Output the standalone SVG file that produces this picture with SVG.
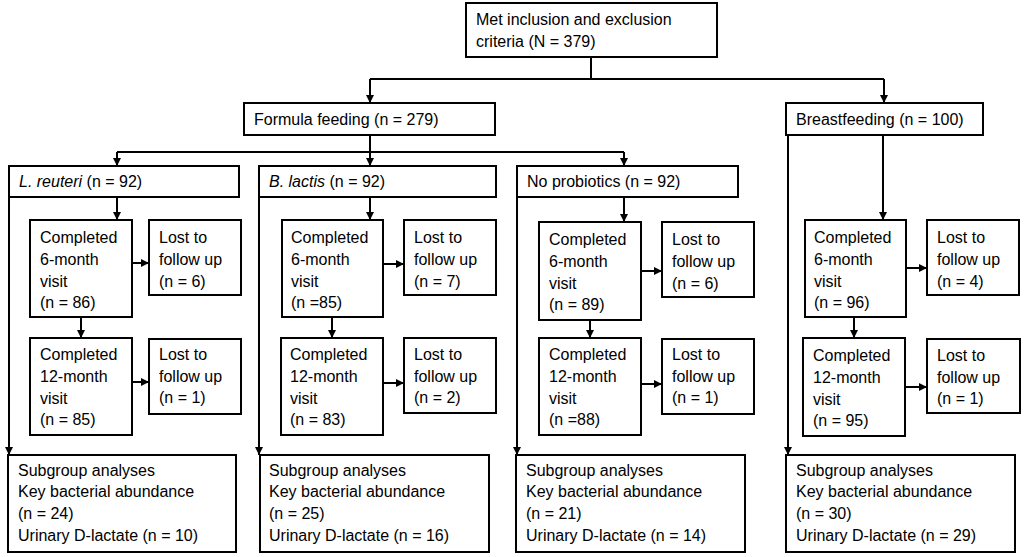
<svg xmlns="http://www.w3.org/2000/svg" width="1024" height="557" viewBox="0 0 1024 557">
<defs>
<marker id="ah" markerUnits="userSpaceOnUse" markerWidth="9" markerHeight="9" refX="8" refY="4" orient="auto">
<path d="M0,0 L8,4 L0,8 z" fill="#000"/>
</marker>
<style>
rect{fill:#fff;stroke:#000;stroke-width:2}
text{font-family:"Liberation Sans",Arial,sans-serif;font-size:16px;fill:#000}
.c path{fill:none;stroke:#000;stroke-width:2}
.a{marker-end:url(#ah)}
</style>
</defs>
<rect x="0" y="0" width="1024" height="557" style="stroke:none"/>
<g class="c" id="connectors">
<path d="M591,57 V79 M370,79 H884"/>
<path class="a" d="M370,79 V103"/>
<path class="a" d="M884,79 V103"/>
<path d="M370,135 V152 M117,152 H624"/>
<path class="a" d="M117,152 V166"/>
<path class="a" d="M370,152 V166"/>
<path class="a" d="M624,152 V166"/>
<path class="a" d="M117,197 V220"/>
<path class="a" d="M132,263 H149"/>
<path class="a" d="M81,317 V338"/>
<path class="a" d="M132,382 H149"/>
<path class="a" d="M9,197 V455"/>
<path class="a" d="M370,197 V220"/>
<path class="a" d="M383,264 H404"/>
<path class="a" d="M332,317 V338"/>
<path class="a" d="M383,383 H404"/>
<path class="a" d="M259,197 V455"/>
<path class="a" d="M624,197 V222"/>
<path class="a" d="M641,271 H662"/>
<path class="a" d="M590,320 V338"/>
<path class="a" d="M641,384 H662"/>
<path class="a" d="M517,197 V455"/>
<path class="a" d="M883,135 V220"/>
<path class="a" d="M906,268 H927"/>
<path class="a" d="M854,317 V338"/>
<path class="a" d="M905,387 H927"/>
<path class="a" d="M788,135 V455"/>
</g>
<g id="top"><rect x="466" y="3" width="251" height="54"/><text x="476" y="25">Met inclusion and exclusion</text><text x="476" y="47">criteria (N = 379)</text></g>
<g id="formula"><rect x="244" y="103" width="251" height="32"/><text x="254" y="125">Formula feeding (n = 279)</text></g>
<g id="breast"><rect x="786" y="103" width="197" height="32"/><text x="796" y="125">Breastfeeding (n = 100)</text></g>
<g id="reuteri"><rect x="9" y="166" width="230" height="31"/><text x="19" y="187"><tspan font-style="italic">L. reuteri</tspan> (n = 92)</text></g>
<g id="lactis"><rect x="259" y="166" width="237" height="31"/><text x="269" y="187"><tspan font-style="italic">B. lactis</tspan> (n = 92)</text></g>
<g id="noprob"><rect x="517" y="166" width="221" height="31"/><text x="527" y="187">No probiotics (n = 92)</text></g>

<g id="r6"><rect x="30" y="220" width="102" height="97"/><text x="40" y="243">Completed</text><text x="40" y="265">6-month</text><text x="40" y="287">visit</text><text x="40" y="308">(n = 86)</text></g>
<g id="r6l"><rect x="149" y="220" width="92" height="75"/><text x="159" y="243">Lost to</text><text x="159" y="265">follow up</text><text x="159" y="287">(n = 6)</text></g>
<g id="r12"><rect x="30" y="338" width="102" height="97"/><text x="40" y="360">Completed</text><text x="40" y="382">12-month</text><text x="40" y="404">visit</text><text x="40" y="425">(n = 85)</text></g>
<g id="r12l"><rect x="149" y="339" width="92" height="75"/><text x="159" y="360">Lost to</text><text x="159" y="382">follow up</text><text x="159" y="403">(n = 1)</text></g>
<g id="rsub"><rect x="8" y="455" width="228" height="97"/><text x="18" y="476">Subgroup analyses</text><text x="18" y="497">Key bacterial abundance</text><text x="18" y="519">(n = 24)</text><text x="18" y="541">Urinary D-lactate (n = 10)</text></g>

<g id="l6"><rect x="282" y="220" width="101" height="97"/><text x="291" y="243">Completed</text><text x="291" y="265">6-month</text><text x="291" y="287">visit</text><text x="291" y="308">(n =85)</text></g>
<g id="l6l"><rect x="404" y="220" width="92" height="75"/><text x="414" y="243">Lost to</text><text x="414" y="265">follow up</text><text x="414" y="287">(n = 7)</text></g>
<g id="l12"><rect x="281" y="338" width="102" height="97"/><text x="290" y="360">Completed</text><text x="290" y="382">12-month</text><text x="290" y="404">visit</text><text x="290" y="425">(n = 83)</text></g>
<g id="l12l"><rect x="404" y="338" width="92" height="75"/><text x="414" y="360">Lost to</text><text x="414" y="382">follow up</text><text x="414" y="403">(n = 2)</text></g>
<g id="lsub"><rect x="260" y="455" width="229" height="97"/><text x="269" y="476">Subgroup analyses</text><text x="269" y="497">Key bacterial abundance</text><text x="269" y="519">(n = 25)</text><text x="269" y="541">Urinary D-lactate (n = 16)</text></g>

<g id="n6"><rect x="539" y="222" width="102" height="98"/><text x="549" y="245">Completed</text><text x="549" y="267">6-month</text><text x="549" y="289">visit</text><text x="549" y="310">(n = 89)</text></g>
<g id="n6l"><rect x="662" y="222" width="92" height="75"/><text x="672" y="245">Lost to</text><text x="672" y="267">follow up</text><text x="672" y="289">(n = 6)</text></g>
<g id="n12"><rect x="539" y="338" width="102" height="97"/><text x="549" y="360">Completed</text><text x="549" y="382">12-month</text><text x="549" y="404">visit</text><text x="549" y="425">(n =88)</text></g>
<g id="n12l"><rect x="662" y="339" width="92" height="75"/><text x="672" y="360">Lost to</text><text x="672" y="382">follow up</text><text x="672" y="403">(n = 1)</text></g>
<g id="nsub"><rect x="516" y="455" width="229" height="97"/><text x="526" y="476">Subgroup analyses</text><text x="526" y="497">Key bacterial abundance</text><text x="526" y="519">(n = 21)</text><text x="526" y="541">Urinary D-lactate (n = 14)</text></g>

<g id="b6"><rect x="805" y="220" width="101" height="97"/><text x="814" y="243">Completed</text><text x="814" y="265">6-month</text><text x="814" y="287">visit</text><text x="814" y="308">(n = 96)</text></g>
<g id="b6l"><rect x="927" y="220" width="92" height="75"/><text x="937" y="243">Lost to</text><text x="937" y="265">follow up</text><text x="937" y="287">(n = 4)</text></g>
<g id="b12"><rect x="803" y="338" width="102" height="98"/><text x="813" y="361">Completed</text><text x="813" y="383">12-month</text><text x="813" y="405">visit</text><text x="813" y="426">(n = 95)</text></g>
<g id="b12l"><rect x="927" y="339" width="93" height="74"/><text x="937" y="361">Lost to</text><text x="937" y="383">follow up</text><text x="937" y="404">(n = 1)</text></g>
<g id="bsub"><rect x="786" y="455" width="229" height="97"/><text x="796" y="476">Subgroup analyses</text><text x="796" y="497">Key bacterial abundance</text><text x="796" y="519">(n = 30)</text><text x="796" y="541">Urinary D-lactate (n = 29)</text></g>
</svg>
